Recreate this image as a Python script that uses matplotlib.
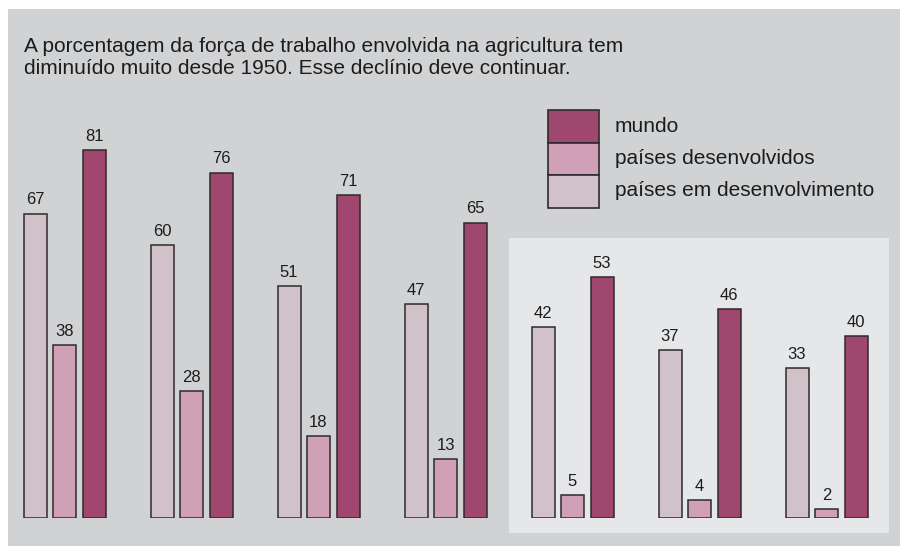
import numpy as np
import matplotlib.pyplot as plt
from matplotlib.patches import Rectangle

plt.rcParams['font.family'] = ['Liberation Sans', 'DejaVu Sans']

# data (percent of workforce in agriculture)
em_desenvolvimento = [67, 60, 51, 47, 42, 37, 33]
desenvolvidos = [38, 28, 18, 13, 5, 4, 2]
mundo = [81, 76, 71, 65, 53, 46, 40]
series_labels = ['mundo', 'países desenvolvidos', 'países em desenvolvimento']
title_lines = ["A porcentagem da força de trabalho envolvida na agricultura tem",
               "diminuído muito desde 1950. Esse declínio deve continuar."]

c_light = '#d1c1c9'
c_mid = '#cfa0b6'
c_dark = '#a0476f'
edge = '#2e2a2c'
txt = '#1c1c1c'

W, H = 900, 546
fig = plt.figure(figsize=(9, 5.46), dpi=100)
fig.patch.set_facecolor('white')

# background layer in pixel coordinates
bg = fig.add_axes([0, 0, 1, 1])
bg.set_xlim(0, W)
bg.set_ylim(H, 0)
bg.axis('off')
bg.add_patch(Rectangle((8, 9), W - 8, H - 9, facecolor='#d1d2d4', edgecolor='none'))
bg.add_patch(Rectangle((509, 238), 380, 295, facecolor='#e6e7e9', edgecolor='none'))
for i, line in enumerate(title_lines):
    bg.text(24, 46 + i * 23, line, fontsize=15.0, color=txt, va='center', ha='left')

# legend
box_cols = [c_dark, c_mid, c_light]
for i, (lab, col) in enumerate(zip(series_labels, box_cols)):
    y0 = 110 + i * 32.5
    bg.add_patch(Rectangle((548, y0), 51, 32.5, facecolor=col, edgecolor=edge, lw=1.2))
    bg.text(615, y0 + 16, lab, fontsize=15.0, color=txt, va='center', ha='left')

# bars
base_px = 518
px_per_unit = 368 / 81
ymax = 90
ax = fig.add_axes([0, (H - base_px) / H, 1, ymax * px_per_unit / H])
ax.set_xlim(0, W)
ax.set_ylim(0, ymax)
ax.axis('off')

centers = 64.5 + 127 * np.arange(len(mundo))
bw = 23
off = 29.5
for vals, col, dx in [(em_desenvolvimento, c_light, -off),
                      (desenvolvidos, c_mid, 0),
                      (mundo, c_dark, off)]:
    bars = ax.bar(centers + dx, vals, width=bw, color=col, edgecolor=edge, linewidth=1.1)
    for b, v in zip(bars, vals):
        ax.annotate(str(v), (b.get_x() + b.get_width() / 2, v), xytext=(0, 4.5),
                    textcoords='offset points', ha='center', va='bottom',
                    fontsize=12, color=txt)

fig.savefig('out.png', dpi=100, facecolor=fig.get_facecolor())
